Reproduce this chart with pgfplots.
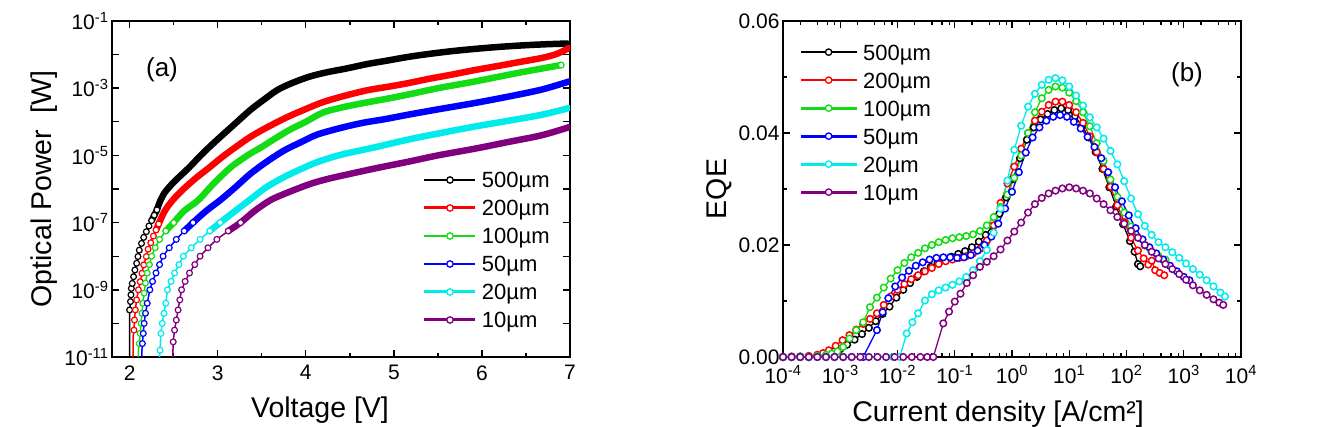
\documentclass[border=0pt]{standalone}
\usepackage{fontspec}
\setmainfont{Liberation Sans}
\usepackage{pgfplots}
\pgfplotsset{compat=1.18}
\definecolor{cBlack}{RGB}{0,0,0}
\definecolor{cRed}{RGB}{255,0,0}
\definecolor{cGreen}{RGB}{20,220,20}
\definecolor{cBlue}{RGB}{0,0,255}
\definecolor{cCyan}{RGB}{0,235,235}
\definecolor{cPurple}{RGB}{128,0,128}
\pgfplotsset{
  myaxis/.style={
    scale only axis, height=336pt, width=458pt,
    axis line style={line width=1.8pt},
    every tick/.style={line width=1.4pt, black},
    major tick length=7pt, minor tick length=4pt,
    tick align=inside,
    scaled ticks=false,
    ticklabel style={font=\fontsize{21}{25}\selectfont},
    xticklabel style={yshift=-5pt},
    label style={font=\fontsize{28.5}{34}\selectfont},
    legend style={draw=none, fill=none, inner sep=0pt, outer sep=0pt, column sep=5pt, row sep=0pt,
      font=\fontsize{22}{26}\selectfont, nodes={inner sep=0pt, text height=22pt, text depth=6pt}},
    legend cell align=left,
  },
  lthin/.style={line width=1.5pt, forget plot},
  lthick/.style={line width=6.5pt, line join=round, line cap=round, smooth, tension=0.5, forget plot},
  lmk/.style={only marks, mark=*, mark size=2.9pt, mark options={fill=white, line width=1.2pt}, forget plot},
  rser/.style={line width=1.3pt, mark=*, mark size=3.3pt, mark options={fill=white, line width=1.5pt}, forget plot},
  legA/.style={legend image code/.code={\draw[mark repeat=2, mark phase=2, ##1] plot coordinates {(0pt,0pt) (25.5pt,0pt) (51pt,0pt)};}},
  legB/.style={legend image code/.code={\draw[mark repeat=2, mark phase=2, ##1] plot coordinates {(0pt,0pt) (28pt,0pt) (56pt,0pt)};}},
}
\begin{document}
\begin{tikzpicture}
\useasboundingbox (0,0) rectangle (1336pt,426pt);
% ---------------- (a) ----------------
\begin{axis}[myaxis, at={(112pt,69pt)}, anchor=south west,
  xmin=1.8, xmax=7.0, ymin=-11, ymax=-1,
  xtick={2,3,4,5,6,7}, xticklabels={2,3,4,5,6,7},
  minor xtick={2.5,3.5,4.5,5.5,6.5},
  ytick={-11,-10,-9,-8,-7,-6,-5,-4,-3,-2,-1},
  yticklabels={{10\textsuperscript{-11}},{},{10\textsuperscript{-9}},{},{10\textsuperscript{-7}},{},{10\textsuperscript{-5}},{},{10\textsuperscript{-3}},{},{10\textsuperscript{-1}}},
  xlabel={Voltage [V]}, ylabel={Optical Power\hspace{0.3em} [W]},
  xlabel style={xshift=-21pt, yshift=-10pt},
  legA,
  legend style={at={(0.679,0.5685)}, anchor=north west},
]
% black
\addplot[cBlack, lthin] coordinates {(2.00,-11.0) (2.00,-9.9) (2.00,-9.60) (2.01,-9.35) (2.015,-9.15) (2.02,-8.96) (2.03,-8.81) (2.045,-8.61) (2.06,-8.41) (2.08,-8.21) (2.095,-8.01) (2.11,-7.82) (2.135,-7.62) (2.16,-7.44) (2.19,-7.27) (2.22,-7.10) (2.25,-6.94) (2.28,-6.78) (2.31,-6.62)};
\addplot[cBlack, lthick] coordinates {(2.25,-6.94) (2.31,-6.62) (2.34,-6.40) (2.40,-6.10) (2.50,-5.80) (2.60,-5.55) (2.68,-5.35) (2.80,-5.02) (2.91,-4.74) (3.03,-4.45) (3.20,-4.05) (3.37,-3.65) (3.53,-3.33) (3.68,-3.05) (3.85,-2.84) (4.05,-2.65) (4.25,-2.52) (4.45,-2.42) (4.70,-2.28) (4.90,-2.19) (5.16,-2.07) (5.40,-1.98) (5.65,-1.90) (5.92,-1.83) (6.20,-1.77) (6.50,-1.72) (6.75,-1.69) (6.97,-1.67)};
\addplot[cBlack, lmk] coordinates {(2.00,-9.60) (2.01,-9.35) (2.015,-9.15) (2.02,-8.96) (2.03,-8.81) (2.045,-8.61) (2.06,-8.41) (2.08,-8.21) (2.095,-8.01) (2.11,-7.82) (2.135,-7.62) (2.16,-7.44) (2.19,-7.27) (2.22,-7.10) (2.25,-6.94) (2.28,-6.78) (2.31,-6.62)};
% red
\addplot[cRed, lthin] coordinates {(2.04,-11) (2.04,-10.4) (2.05,-10.2) (2.055,-9.9) (2.065,-9.6) (2.08,-9.3) (2.10,-9.0) (2.12,-8.76) (2.14,-8.51) (2.16,-8.26) (2.19,-8.01) (2.21,-7.79) (2.24,-7.60) (2.27,-7.40) (2.30,-7.22) (2.33,-7.04)};
\addplot[cRed, lthick] coordinates {(2.30,-7.22) (2.33,-7.04) (2.40,-6.65) (2.49,-6.33) (2.60,-6.03) (2.75,-5.68) (2.91,-5.35) (3.05,-5.05) (3.20,-4.76) (3.37,-4.45) (3.55,-4.18) (3.79,-3.86) (4.00,-3.62) (4.20,-3.41) (4.45,-3.22) (4.70,-3.06) (4.95,-2.95) (5.16,-2.85) (5.40,-2.72) (5.65,-2.60) (5.92,-2.46) (6.20,-2.33) (6.45,-2.21) (6.68,-2.10) (6.85,-1.98) (6.99,-1.80)};
\addplot[cRed, lmk] coordinates {(2.05,-10.2) (2.055,-9.9) (2.065,-9.6) (2.08,-9.3) (2.10,-9.0) (2.12,-8.76) (2.14,-8.51) (2.16,-8.26) (2.19,-8.01) (2.21,-7.79) (2.24,-7.60) (2.27,-7.40) (2.30,-7.22) (2.33,-7.04)};
% green
\addplot[cGreen, lthin] coordinates {(2.10,-11) (2.10,-10.8) (2.11,-10.6) (2.12,-10.3) (2.13,-10.0) (2.14,-9.7) (2.15,-9.4) (2.165,-9.1) (2.18,-8.8) (2.20,-8.5) (2.225,-8.25) (2.25,-8.0) (2.29,-7.75) (2.34,-7.5) (2.41,-7.25) (2.50,-7.0)};
\addplot[cGreen, lthick] coordinates {(2.41,-7.25) (2.50,-7.0) (2.62,-6.65) (2.78,-6.33) (2.95,-5.85) (3.15,-5.35) (3.35,-4.98) (3.50,-4.75) (3.65,-4.50) (3.83,-4.22) (4.00,-4.00) (4.20,-3.72) (4.45,-3.55) (4.70,-3.42) (4.95,-3.30) (5.16,-3.19) (5.50,-3.00) (5.92,-2.80) (6.40,-2.55) (6.90,-2.31)};
\addplot[cGreen, lmk] coordinates {(2.11,-10.6) (2.12,-10.3) (2.13,-10.0) (2.14,-9.7) (2.15,-9.4) (2.165,-9.1) (2.18,-8.8) (2.20,-8.5) (2.225,-8.25) (2.25,-8.0) (2.29,-7.75) (2.34,-7.5) (2.41,-7.25) (2.50,-7.0) (6.90,-2.31)};
% blue
\addplot[cBlue, lthin] coordinates {(2.14,-11) (2.14,-10.8) (2.145,-10.6) (2.155,-10.3) (2.165,-10.0) (2.18,-9.7) (2.20,-9.4) (2.23,-9.0) (2.26,-8.75) (2.30,-8.5) (2.34,-8.25) (2.38,-8.0) (2.45,-7.75) (2.53,-7.5) (2.62,-7.25) (2.72,-7.0)};
\addplot[cBlue, lthick] coordinates {(2.62,-7.25) (2.72,-7.0) (2.87,-6.65) (3.03,-6.33) (3.20,-5.95) (3.37,-5.55) (3.55,-5.20) (3.75,-4.86) (3.95,-4.60) (4.13,-4.38) (4.40,-4.18) (4.65,-4.03) (4.90,-3.92) (5.16,-3.79) (5.50,-3.63) (5.92,-3.44) (6.30,-3.25) (6.68,-3.04) (6.99,-2.80)};
\addplot[cBlue, lmk] coordinates {(2.145,-10.6) (2.155,-10.3) (2.165,-10.0) (2.18,-9.7) (2.20,-9.4) (2.23,-9.0) (2.26,-8.75) (2.30,-8.5) (2.34,-8.25) (2.38,-8.0) (2.45,-7.75) (2.53,-7.5) (2.62,-7.25) (2.72,-7.0)};
% cyan
\addplot[cCyan, lthin] coordinates {(2.34,-11) (2.345,-10.8) (2.355,-10.3) (2.37,-10.0) (2.39,-9.7) (2.41,-9.4) (2.43,-9.0) (2.47,-8.75) (2.51,-8.5) (2.56,-8.25) (2.61,-8.0) (2.70,-7.75) (2.80,-7.5) (2.91,-7.25) (3.03,-7.0)};
\addplot[cCyan, lthick] coordinates {(2.91,-7.25) (3.03,-7.0) (3.20,-6.65) (3.36,-6.33) (3.55,-5.95) (3.75,-5.65) (3.95,-5.40) (4.13,-5.20) (4.40,-4.98) (4.80,-4.75) (5.16,-4.53) (5.50,-4.35) (5.92,-4.14) (6.30,-3.97) (6.68,-3.79) (6.99,-3.59)};
\addplot[cCyan, lmk] coordinates {(2.345,-10.8) (2.355,-10.3) (2.37,-10.0) (2.39,-9.7) (2.41,-9.4) (2.43,-9.0) (2.47,-8.75) (2.51,-8.5) (2.56,-8.25) (2.61,-8.0) (2.70,-7.75) (2.80,-7.5) (2.91,-7.25) (3.03,-7.0)};
% purple
\addplot[cPurple, lthin] coordinates {(2.49,-11) (2.495,-10.55) (2.51,-10.2) (2.53,-9.9) (2.55,-9.6) (2.57,-9.3) (2.59,-9.0) (2.63,-8.75) (2.68,-8.5) (2.74,-8.25) (2.80,-8.0) (2.89,-7.75) (2.99,-7.5) (3.12,-7.25) (3.26,-7.0)};
\addplot[cPurple, lthick] coordinates {(3.12,-7.25) (3.26,-7.0) (3.42,-6.65) (3.60,-6.33) (3.80,-6.10) (4.05,-5.85) (4.25,-5.70) (4.45,-5.58) (4.80,-5.38) (5.16,-5.19) (5.50,-5.00) (5.92,-4.80) (6.30,-4.60) (6.68,-4.40) (6.99,-4.16)};
\addplot[cPurple, lmk] coordinates {(2.495,-10.55) (2.51,-10.2) (2.53,-9.9) (2.55,-9.6) (2.57,-9.3) (2.59,-9.0) (2.63,-8.75) (2.68,-8.5) (2.74,-8.25) (2.80,-8.0) (2.89,-7.75) (2.99,-7.5) (3.12,-7.25) (3.26,-7.0)};
% legend
\addlegendimage{cBlack, line width=2pt, mark=*, mark size=3.2pt, mark options={fill=white, line width=1.3pt}}
\addlegendentry{500µm}
\addlegendimage{cRed, line width=3pt, mark=*, mark size=3.2pt, mark options={fill=white, line width=1.3pt}}
\addlegendentry{200µm}
\addlegendimage{cGreen, line width=2.4pt, mark=*, mark size=3.2pt, mark options={fill=white, line width=1.3pt}}
\addlegendentry{100µm}
\addlegendimage{cBlue, line width=2.4pt, mark=*, mark size=3.2pt, mark options={fill=white, line width=1.3pt}}
\addlegendentry{50µm}
\addlegendimage{cCyan, line width=3pt, mark=*, mark size=3.2pt, mark options={fill=white, line width=1.3pt}}
\addlegendentry{20µm}
\addlegendimage{cPurple, line width=3pt, mark=*, mark size=3.2pt, mark options={fill=white, line width=1.3pt}}
\addlegendentry{10µm}
\end{axis}
% ---------------- (b) ----------------
\begin{axis}[myaxis, at={(783pt,69pt)}, anchor=south west,
  xmin=-4, xmax=4, ymin=0, ymax=0.06,
  xtick={-4,-3,-2,-1,0,1,2,3,4},
  xticklabels={{10\textsuperscript{-4}},{10\textsuperscript{-3}},{10\textsuperscript{-2}},{10\textsuperscript{-1}},{10\textsuperscript{0}},{10\textsuperscript{1}},{10\textsuperscript{2}},{10\textsuperscript{3}},{10\textsuperscript{4}}},
  minor xtick={-3.699,-3.398,-3.222,-3.097,-2.699,-2.398,-2.222,-2.097,-1.699,-1.398,-1.222,-1.097,-0.699,-0.398,-0.222,-0.097,0.301,0.602,0.778,0.903,1.301,1.602,1.778,1.903,2.301,2.602,2.778,2.903,3.301,3.602,3.778,3.903},
  ytick={0,0.02,0.04,0.06}, yticklabels={0.00,0.02,0.04,0.06},
  minor ytick={0.01,0.03,0.05},
  xlabel={Current density [A/cm²]}, ylabel={EQE},
  xlabel style={xshift=-14pt, yshift=-10pt},
  legB,
  legend style={at={(0.035,0.949)}, anchor=north west},
]
\addplot[cBlack, rser] coordinates {(-4.00,0) (-3.85,0) (-3.70,0.0001) (-3.55,0) (-3.40,0.0003) (-3.25,0.0006) (-3.12,0.0010) (-3.00,0.0014) (-2.88,0.0022) (-2.75,0.0031) (-2.62,0.0041) (-2.50,0.0052) (-2.38,0.0064) (-2.26,0.0077) (-2.14,0.0090) (-2.02,0.0106) (-1.90,0.0120) (-1.78,0.0132) (-1.66,0.0143) (-1.54,0.0153) (-1.42,0.0161) (-1.30,0.0168) (-1.18,0.0174) (-1.06,0.0179) (-0.94,0.0184) (-0.82,0.0189) (-0.70,0.0196) (-0.58,0.0206) (-0.46,0.0218) (-0.34,0.0234) (-0.22,0.0256) (-0.10,0.0285) (0.02,0.0318) (0.14,0.0355) (0.26,0.0388) (0.38,0.0410) (0.50,0.0424) (0.62,0.0434) (0.74,0.0441) (0.86,0.0444) (0.98,0.0441) (1.10,0.0430) (1.22,0.0413) (1.34,0.0392) (1.46,0.0366) (1.58,0.0336) (1.70,0.0303) (1.82,0.0269) (1.94,0.0237) (2.06,0.0207) (2.14,0.0188) (2.20,0.0166) (2.24,0.0162)};
\addplot[cRed, rser] coordinates {(-4.00,0) (-3.85,0.0001) (-3.70,0) (-3.55,0.0002) (-3.40,0.0004) (-3.30,0.0007) (-3.20,0.0012) (-3.08,0.0020) (-2.96,0.0030) (-2.84,0.0039) (-2.72,0.0049) (-2.60,0.0059) (-2.48,0.0068) (-2.36,0.0078) (-2.24,0.0093) (-2.12,0.0108) (-2.00,0.0120) (-1.88,0.0130) (-1.76,0.0139) (-1.64,0.0146) (-1.52,0.0153) (-1.40,0.0159) (-1.28,0.0166) (-1.16,0.0171) (-1.04,0.0174) (-0.92,0.0177) (-0.80,0.0180) (-0.68,0.0185) (-0.56,0.0193) (-0.44,0.0208) (-0.32,0.0235) (-0.20,0.0275) (-0.08,0.0310) (0.04,0.0340) (0.16,0.0372) (0.28,0.0400) (0.40,0.0422) (0.52,0.0438) (0.64,0.0450) (0.76,0.0456) (0.88,0.0456) (1.00,0.0450) (1.12,0.0437) (1.24,0.0418) (1.36,0.0394) (1.48,0.0366) (1.60,0.0336) (1.72,0.0304) (1.84,0.0271) (1.96,0.0241) (2.08,0.0213) (2.20,0.0190) (2.30,0.0176) (2.38,0.0165) (2.44,0.0172) (2.50,0.0155) (2.58,0.0150) (2.66,0.0146)};
\addplot[cGreen, rser] coordinates {(-4.00,0) (-3.85,0) (-3.70,0.0001) (-3.55,0) (-3.40,0.0002) (-3.25,0.0004) (-3.15,0.0006) (-3.05,0.0010) (-2.95,0.0018) (-2.84,0.0033) (-2.72,0.0048) (-2.60,0.0062) (-2.48,0.0089) (-2.36,0.0106) (-2.24,0.0124) (-2.12,0.0140) (-2.00,0.0155) (-1.88,0.0168) (-1.76,0.0178) (-1.64,0.0186) (-1.52,0.0194) (-1.40,0.0200) (-1.28,0.0205) (-1.16,0.0209) (-1.04,0.0212) (-0.92,0.0214) (-0.80,0.0216) (-0.68,0.0219) (-0.56,0.0225) (-0.44,0.0235) (-0.32,0.0250) (-0.20,0.0268) (-0.08,0.0290) (0.04,0.0320) (0.16,0.0360) (0.28,0.0400) (0.40,0.0437) (0.52,0.0462) (0.64,0.0477) (0.76,0.0483) (0.88,0.0481) (1.00,0.0472) (1.12,0.0457) (1.24,0.0437) (1.36,0.0412) (1.48,0.0382) (1.60,0.0350) (1.72,0.0317) (1.84,0.0286) (1.96,0.0258) (2.08,0.0233) (2.20,0.0213) (2.32,0.0199) (2.44,0.0188) (2.56,0.0180) (2.68,0.0174)};
\addplot[cBlue, rser] coordinates {(-4.00,0) (-3.85,0) (-3.70,0) (-3.55,0) (-3.40,0) (-3.25,0) (-3.10,0) (-2.95,0) (-2.80,0) (-2.60,0) (-2.36,0.0048) (-2.26,0.0080) (-2.16,0.0105) (-2.04,0.0126) (-1.92,0.0142) (-1.80,0.0154) (-1.68,0.0163) (-1.56,0.0169) (-1.44,0.0174) (-1.32,0.0177) (-1.20,0.0178) (-1.08,0.0178) (-0.96,0.0177) (-0.84,0.0178) (-0.72,0.0182) (-0.60,0.0190) (-0.48,0.0200) (-0.36,0.0215) (-0.24,0.0238) (-0.12,0.0265) (0.00,0.0295) (0.12,0.0330) (0.24,0.0365) (0.36,0.0392) (0.48,0.0410) (0.60,0.0422) (0.72,0.0429) (0.84,0.0432) (0.96,0.0429) (1.08,0.0420) (1.20,0.0408) (1.32,0.0393) (1.44,0.0375) (1.56,0.0355) (1.68,0.0330) (1.80,0.0303) (1.92,0.0278) (2.04,0.0253) (2.16,0.0230) (2.28,0.0210) (2.40,0.0196) (2.52,0.0185) (2.64,0.0174) (2.76,0.0163) (2.88,0.0153) (3.00,0.0143) (3.10,0.0137)};
\addplot[cCyan, rser] coordinates {(-4.00,0) (-3.85,0) (-3.70,0) (-3.55,0) (-3.40,0) (-3.25,0) (-3.10,0) (-2.95,0) (-2.80,0) (-2.65,0) (-2.50,0) (-2.35,0) (-2.20,0) (-2.08,0) (-1.96,0) (-1.84,0.0042) (-1.74,0.0062) (-1.64,0.0078) (-1.52,0.0101) (-1.40,0.0112) (-1.28,0.0119) (-1.16,0.0124) (-1.04,0.0129) (-0.92,0.0135) (-0.80,0.0143) (-0.68,0.0155) (-0.56,0.0171) (-0.44,0.0191) (-0.32,0.0222) (-0.20,0.0265) (-0.08,0.0315) (0.04,0.0370) (0.16,0.0413) (0.28,0.0447) (0.40,0.0470) (0.52,0.0486) (0.64,0.0495) (0.76,0.0498) (0.88,0.0494) (1.00,0.0483) (1.12,0.0467) (1.24,0.0449) (1.36,0.0428) (1.48,0.0410) (1.60,0.0390) (1.72,0.0368) (1.84,0.0344) (1.96,0.0314) (2.08,0.0283) (2.20,0.0255) (2.32,0.0234) (2.44,0.0218) (2.56,0.0205) (2.68,0.0196) (2.80,0.0187) (2.92,0.0177) (3.04,0.0167) (3.16,0.0157) (3.28,0.0147) (3.40,0.0137) (3.52,0.0126) (3.64,0.0115) (3.72,0.0108)};
\addplot[cPurple, rser] coordinates {(-4.00,0) (-3.85,0) (-3.70,0) (-3.55,0) (-3.40,0) (-3.25,0) (-3.10,0) (-2.95,0) (-2.80,0) (-2.65,0) (-2.50,0) (-2.35,0) (-2.20,0) (-2.05,0) (-1.90,0) (-1.75,0) (-1.60,0) (-1.48,0) (-1.375,0) (-1.20,0.0060) (-1.10,0.0081) (-1.00,0.0099) (-0.90,0.0113) (-0.79,0.0132) (-0.68,0.0146) (-0.56,0.0161) (-0.44,0.0170) (-0.32,0.0180) (-0.20,0.0192) (-0.08,0.0208) (0.04,0.0224) (0.16,0.0240) (0.28,0.0258) (0.40,0.0273) (0.52,0.0284) (0.64,0.0292) (0.76,0.0297) (0.88,0.0301) (1.00,0.0303) (1.12,0.0301) (1.24,0.0297) (1.36,0.0292) (1.48,0.0283) (1.60,0.0273) (1.72,0.0262) (1.84,0.0250) (1.96,0.0238) (2.08,0.0225) (2.20,0.0213) (2.32,0.0200) (2.44,0.0188) (2.56,0.0176) (2.68,0.0166) (2.80,0.0157) (2.92,0.0148) (3.04,0.0138) (3.16,0.0128) (3.28,0.0119) (3.40,0.0111) (3.52,0.0103) (3.62,0.0097) (3.69,0.0093)};
\addlegendimage{cBlack, line width=2pt, mark=*, mark size=3.2pt, mark options={fill=white, line width=1.3pt}}
\addlegendentry{500µm}
\addlegendimage{cRed, line width=2.5pt, mark=*, mark size=3.2pt, mark options={fill=white, line width=1.3pt}}
\addlegendentry{200µm}
\addlegendimage{cGreen, line width=3pt, mark=*, mark size=3.2pt, mark options={fill=white, line width=1.3pt}}
\addlegendentry{100µm}
\addlegendimage{cBlue, line width=3pt, mark=*, mark size=3.2pt, mark options={fill=white, line width=1.3pt}}
\addlegendentry{50µm}
\addlegendimage{cCyan, line width=3.2pt, mark=*, mark size=3.2pt, mark options={fill=white, line width=1.3pt}}
\addlegendentry{20µm}
\addlegendimage{cPurple, line width=3pt, mark=*, mark size=3.2pt, mark options={fill=white, line width=1.3pt}}
\addlegendentry{10µm}
\end{axis}
\node[font=\fontsize{26}{30}\selectfont] at (162pt,356pt) {(a)};
\node[font=\fontsize{26}{30}\selectfont] at (1187pt,351pt) {(b)};
\end{tikzpicture}
\end{document}
